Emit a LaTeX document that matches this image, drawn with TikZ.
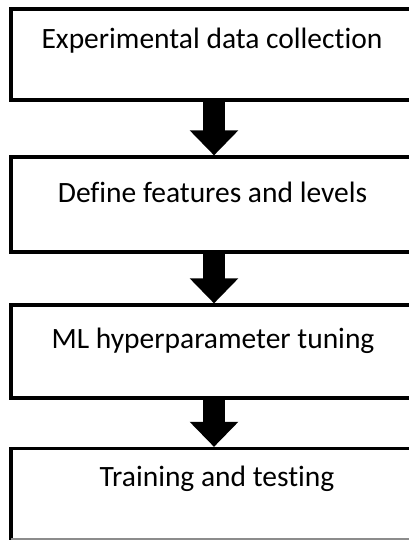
\documentclass[tikz,border=0pt]{standalone}
\usepackage{fontspec}
\setmainfont[Ligatures={NoCommon}]{Carlito}
\usetikzlibrary{arrows.meta}
\tikzset{
  box/.style={draw=black, line width=3.2pt, fill=white, rectangle, minimum width=406pt, inner sep=0pt},
  label/.style={anchor=base, inner sep=0pt, font=\fontsize{29.5}{32}\selectfont},
  flow/.style={line width=22pt, -{Triangle[width=47pt,length=25pt]}, black}
}
\begin{document}
\begin{tikzpicture}[x=1pt,y=-1pt]
\useasboundingbox (0,0) rectangle (409,540);
\clip (0,0) rectangle (409,540);
\fill[white] (0,0) rectangle (409,540);
\node[box, minimum height=91pt] (b1) at (214,54.5) {};
\node[box, minimum height=95pt] (b2) at (214,204.5) {};
\node[box, minimum height=93pt] (b3) at (214,351.5) {};
\node[box, minimum height=91pt, outer sep=0pt] (b4) at (214,494) {};
\draw[line width=3.2pt, black!45] (b4.south west) -- (b4.south east);
\node[label] (t1) at (212,49) {Experimental data collection};
\node[label] (t2) at (212.5,202) {Define features and levels};
\node[label] (t3) at (213,348) {ML hyperparameter tuning};
\node[label] (t4) at (217,486) {Training and testing};
\draw[flow] (b1.south) -- (b2.north);
\draw[flow] (b2.south) -- (b3.north);
\draw[flow, shorten >=1.6pt] (b3.south) -- (b4.north);
\end{tikzpicture}
\end{document}
